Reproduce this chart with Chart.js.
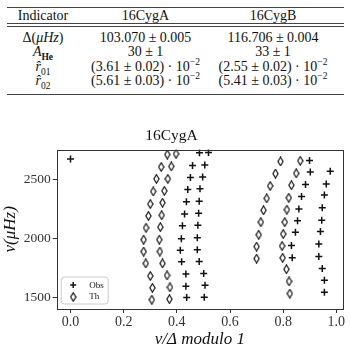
<!DOCTYPE html>
<html lang="en">
  <head>
    <meta charset="UTF-8" />
    <title>16CygA echelle diagram</title>
    <script src="https://cdn.jsdelivr.net/npm/chart.js"></script>
    <style>
      * {
        margin: 0;
        padding: 0;
        box-sizing: border-box;
      }

      body {
        width: 350px;
        height: 350px;
        overflow: hidden;
        background: #fff;
        font-family: "Liberation Serif", serif;
        color: #111;
        position: relative;
      }

      .rule {
        position: absolute;
        left: 7px;
        width: 337px;
        height: 1px;
        background: #444;
      }

      table {
        position: absolute;
        left: 7px;
        border-collapse: collapse;
        font-family: "Liberation Serif", serif;
        font-size: 14px;
      }

      td {
        padding: 0;
        text-align: center;
        white-space: nowrap;
      }

      .head td {
        height: 16px;
        line-height: 16px;
      }

      .body td {
        height: 14.3px;
        line-height: 14.3px;
      }

      sub,
      sup {
        font-size: 68%;
        line-height: 0;
      }

      #chart {
        position: absolute;
        left: 0;
        top: 122px;
      }
    </style>
  </head>
  <body>
    <div class="rule" style="top: 7px"></div>
    <table class="head" style="top: 7.5px">
      <tr>
        <td style="width: 72px">Indicator</td>
        <td style="width: 133px">16CygA</td>
        <td style="width: 122px">16CygB</td>
      </tr>
    </table>
    <div class="rule" style="top: 23px"></div>
    <div class="rule" style="top: 25.5px"></div>

    <table class="body" style="top: 31px">
      <tr>
        <td style="width: 72px">&Delta;(<i>&mu;Hz</i>)</td>
        <td style="width: 133px">103.070 &plusmn; 0.005</td>
        <td style="width: 122px">116.706 &plusmn; 0.004</td>
      </tr>
      <tr>
        <td><i>A</i><sub><b>He</b></sub></td>
        <td>30 &plusmn; 1</td>
        <td>33 &plusmn; 1</td>
      </tr>
      <tr>
        <td><i>r&#770;</i><sub>01</sub></td>
        <td>(3.61 &plusmn; 0.02) &middot; 10<sup>&minus;2</sup></td>
        <td>(2.55 &plusmn; 0.02) &middot; 10<sup>&minus;2</sup></td>
      </tr>
      <tr>
        <td><i>r&#770;</i><sub>02</sub></td>
        <td>(5.61 &plusmn; 0.03) &middot; 10<sup>&minus;2</sup></td>
        <td>(5.41 &plusmn; 0.03) &middot; 10<sup>&minus;2</sup></td>
      </tr>
    </table>
    <div class="rule" style="top: 93.5px; height: 1.5px"></div>

    <canvas id="chart" width="350" height="228"></canvas>

    <script>
      const xTicks = [0, 0.2, 0.4, 0.6, 0.8, 1.0];
      const yTicks = [1500, 2000, 2500];

      // observed modes (crosses), nu/Delta mod 1 and nu
      const obsMod = [
        0.0,
        0.437, 0.434, 0.434, 0.418, 0.413, 0.417, 0.421, 0.429, 0.436, 0.441, 0.451, 0.459, 0.485,
        0.503, 0.506, 0.501, 0.484, 0.477, 0.477, 0.479, 0.482, 0.484, 0.487, 0.497, 0.505, 0.519,
        0.834, 0.831, 0.846, 0.854, 0.859, 0.869, 0.884, 0.902, 0.899,
        0.955, 0.955, 0.947, 0.934, 0.934, 0.94, 0.945, 0.947, 0.955, 0.962, 0.977,
      ];
      const obsNu = [
        2674,
        1497, 1593, 1697, 1800, 1899, 1997, 2107, 2208, 2312, 2416, 2517, 2620, 2728,
        1500, 1601, 1702, 1803, 1904, 2006, 2112, 2213, 2315, 2421, 2522, 2624, 2730,
        1834, 1940, 2052, 2149, 2250, 2357, 2458, 2564, 2663,
        1542, 1643, 1744, 1845, 1952, 2059, 2155, 2261, 2368, 2463, 2570,
      ];

      // theoretical modes (diamonds)
      const thMod = [
        0.306, 0.308, 0.3, 0.283, 0.275, 0.275, 0.284, 0.293, 0.3, 0.311, 0.323, 0.341, 0.364,
        0.372, 0.374, 0.363, 0.346, 0.336, 0.334, 0.338, 0.343, 0.346, 0.353, 0.366, 0.379, 0.397,
        0.7, 0.7, 0.708, 0.716, 0.726, 0.738, 0.751, 0.771, 0.79,
        0.825, 0.822, 0.812, 0.798, 0.796, 0.8, 0.806, 0.814, 0.821, 0.831, 0.849, 0.864,
      ];
      const thNu = [
        1478, 1579, 1680, 1787, 1888, 1989, 2090, 2191, 2292, 2399, 2506, 2607, 2713,
        1483, 1584, 1685, 1787, 1888, 1989, 2096, 2197, 2303, 2404, 2506, 2612, 2719,
        1828, 1930, 2031, 2138, 2239, 2340, 2446, 2551, 2654,
        1530, 1634, 1737, 1834, 1935, 2037, 2138, 2244, 2345, 2452, 2553, 2660,
      ];

      const ink = "#111";
      const serif = "'Liberation Serif', serif";

      function diamondMarker() {
        const c = document.createElement("canvas");
        c.width = 7;
        c.height = 10;
        const g = c.getContext("2d");
        g.strokeStyle = ink;
        g.lineWidth = 1.2;
        g.beginPath();
        g.moveTo(3.5, 0.8);
        g.lineTo(6.1, 5);
        g.lineTo(3.5, 9.2);
        g.lineTo(0.9, 5);
        g.closePath();
        g.stroke();
        return c;
      }
      const diamond = diamondMarker();

      // frame around the axes + legend box in lower left corner
      const framePlugin = {
        id: "frame",
        afterDraw(chart) {
          const { ctx, chartArea: a } = chart;
          ctx.save();
          ctx.strokeStyle = "#333";
          ctx.lineWidth = 1;
          ctx.strokeRect(
            Math.round(a.left) + 0.5,
            Math.round(a.top) + 0.5,
            Math.round(a.right - a.left),
            Math.round(a.bottom - a.top)
          );

          const bx = a.left + 4.5;
          const by = a.bottom - 32;
          ctx.fillStyle = "rgba(255,255,255,0.8)";
          ctx.strokeStyle = "#ccc";
          ctx.beginPath();
          ctx.roundRect(bx, by, 47, 27, 3);
          ctx.fill();
          ctx.stroke();

          // cross
          ctx.strokeStyle = ink;
          ctx.lineWidth = 1.5;
          ctx.beginPath();
          ctx.moveTo(bx + 9, by + 8);
          ctx.lineTo(bx + 15, by + 8);
          ctx.moveTo(bx + 12, by + 5);
          ctx.lineTo(bx + 12, by + 11);
          ctx.stroke();
          ctx.drawImage(diamond, bx + 8.5, by + 15);

          ctx.fillStyle = ink;
          ctx.font = "9px " + serif;
          ctx.textBaseline = "middle";
          ctx.fillText("Obs", bx + 28, by + 8.5);
          ctx.fillText("Th", bx + 28, by + 20);
          ctx.restore();
        },
      };

      new Chart(document.getElementById("chart"), {
        type: "scatter",
        data: {
          datasets: [
            {
              label: "Obs",
              data: obsMod.map((x, i) => ({ x: x, y: obsNu[i] })),
              pointStyle: "cross",
              pointRadius: 3.5,
              borderColor: ink,
              borderWidth: 1.5,
            },
            {
              label: "Th",
              data: thMod.map((x, i) => ({ x: x, y: thNu[i] })),
              pointStyle: diamond,
              pointRadius: 5,
            },
          ],
        },
        options: {
          responsive: false,
          devicePixelRatio: 1,
          animation: false,
          events: [],
          layout: { padding: { left: 0, right: 7, top: 0, bottom: 0 } },
          plugins: {
            legend: { display: false },
            tooltip: { enabled: false },
            title: {
              display: true,
              text: "16CygA",
              color: ink,
              font: { family: serif, size: 15.5, weight: "normal" },
              padding: { top: 5, bottom: 4 },
            },
          },
          scales: {
            x: {
              type: "linear",
              min: -0.052,
              max: 1.025,
              afterBuildTicks: (s) => {
                s.ticks = xTicks.map((v) => ({ value: v }));
              },
              afterFit: (s) => {
                s.height = 41;
              },
              border: { display: false },
              grid: {
                drawOnChartArea: false,
                tickLength: 4,
                tickColor: "#333",
              },
              ticks: {
                color: "#333",
                padding: 1,
                maxRotation: 0,
                font: { family: serif, size: 14 },
                callback: (v) => v.toFixed(1),
              },
              title: {
                display: true,
                text: "ν/Δ modulo 1",
                color: ink,
                padding: 0,
                font: { family: serif, size: 17, style: "italic" },
              },
            },
            y: {
              type: "linear",
              min: 1399,
              max: 2755,
              afterBuildTicks: (s) => {
                s.ticks = yTicks.map((v) => ({ value: v }));
              },
              afterFit: (s) => {
                s.width = 56.7;
              },
              border: { display: false },
              grid: {
                drawOnChartArea: false,
                tickLength: 4,
                tickColor: "#333",
              },
              ticks: {
                color: "#333",
                padding: 2,
                font: { family: serif, size: 13.5 },
                callback: (v) => String(v),
              },
              title: {
                display: true,
                text: "ν(μHz)",
                color: ink,
                padding: 0,
                font: { family: serif, size: 17, style: "italic" },
              },
            },
          },
        },
        plugins: [framePlugin],
      });
    </script>
  </body>
</html>
